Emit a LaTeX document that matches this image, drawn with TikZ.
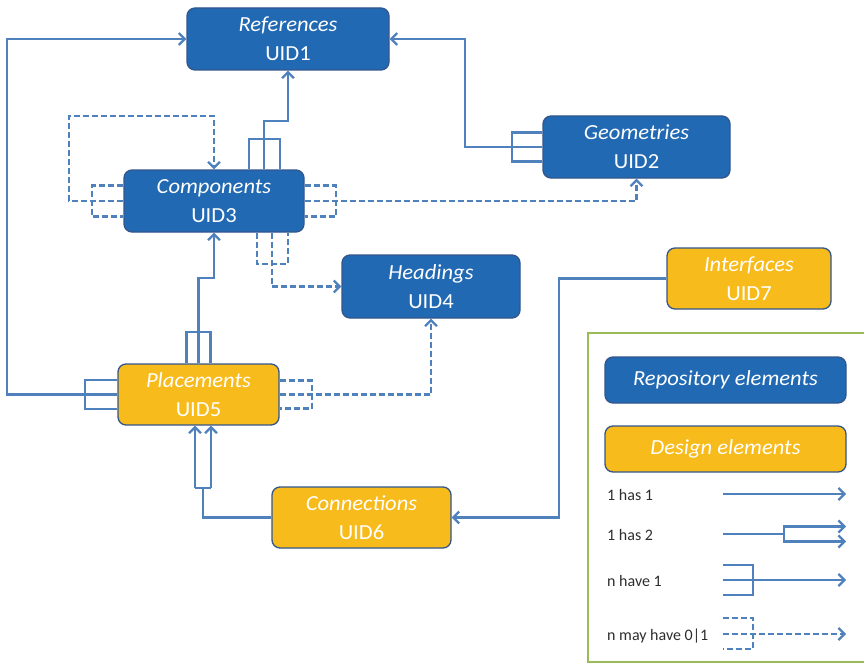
\documentclass[tikz,border=0pt]{standalone}
\usepackage{fontspec}
\setmainfont{Carlito}
\newfontfamily\boxfont{Carlito}[FakeStretch=1.05]
\usetikzlibrary{arrows.meta}

\definecolor{repoblue}{RGB}{33,105,178}
\definecolor{boxline}{RGB}{50,86,140}
\definecolor{designgold}{RGB}{248,187,28}
\definecolor{linkblue}{RGB}{79,129,189}
\definecolor{framegreen}{RGB}{155,187,89}
\definecolor{keytext}{RGB}{45,45,45}

\begin{document}
\begin{tikzpicture}[x=1pt,y=-1pt,
    box/.style={rounded corners=8pt, draw=boxline, line width=1.3pt, text=white,
        inner sep=0pt, align=center, font=\boxfont\fontsize{21.5}{29}\selectfont},
    repo/.style={box, fill=repoblue},
    design/.style={box, fill=designgold},
    link/.style={draw=linkblue, line width=2.2pt},
    opt/.style={link, dash pattern=on 6pt off 3pt},
    arr/.style={-{Straight Barb[length=6pt,width=12pt]}},
    keylabel/.style={anchor=base west, inner sep=0pt, text=keytext, font=\fontsize{16}{18}\selectfont}]
    \clip (0,0) rectangle (864,666);

    % elements
    \node[repo, minimum width=202pt, minimum height=62pt] (ref) at (288,39) {\textit{References}\\UID1};
    \node[repo, minimum width=187pt, minimum height=62pt] (geo) at (636.5,147) {\textit{Geometries}\\UID2};
    \node[repo, minimum width=180pt, minimum height=62pt] (cmp) at (214,201) {\textit{Components}\\UID3};
    \node[repo, minimum width=178pt, minimum height=63pt] (hdg) at (431,286.5) {\textit{Headings}\\UID4};
    \node[design, minimum width=161pt, minimum height=61pt] (plc) at (198.5,394.5) {\textit{Placements}\\UID5};
    \node[design, minimum width=179pt, minimum height=61pt] (con) at (361.5,517.5) {\textit{Connections}\\UID6};
    \node[design, minimum width=164pt, minimum height=61pt] (ifc) at (749,278.5) {\textit{Interfaces}\\UID7};

    % placements -> references
    \draw[link] ([yshift=14.5pt]plc.west) -| ([xshift=-32pt,yshift=-14.5pt]plc.west) -- ([yshift=-14.5pt]plc.west);
    \draw[link,arr] (plc.west) -- ++(-110,0) |- (ref.west);

    % components -> references
    \draw[link] ([xshift=35pt]cmp.north) |- ([xshift=66pt,yshift=30pt]cmp.north) -- ([xshift=66pt]cmp.north);
    \draw[link,arr] ([xshift=50pt]cmp.north) -- ++(0,-48) -| (ref.south);

    % geometries -> references
    \draw[link] ([yshift=14.5pt]geo.west) -| ([xshift=-30pt,yshift=-14.5pt]geo.west) -- ([yshift=-14.5pt]geo.west);
    \draw[link,arr] (geo.west) -- ++(-77,0) |- (ref.east);

    % components -> components
    \draw[opt] ([yshift=15.5pt]cmp.west) -| ([xshift=-31pt,yshift=-15.5pt]cmp.west) -- ([yshift=-15.5pt]cmp.west);
    \draw[opt,arr] (cmp.west) -- ++(-54,0) -- ++(0,-85) -| (cmp.north);

    % components -> geometries
    \draw[opt] ([yshift=15.5pt]cmp.east) -| ([xshift=31pt,yshift=-15.5pt]cmp.east) -- ([yshift=-15.5pt]cmp.east);
    \draw[opt,arr] (cmp.east) -| (geo.south);

    % components -> headings
    \draw[opt] ([xshift=43pt]cmp.south) |- ([xshift=74pt,yshift=-31pt]cmp.south) -- ([xshift=74pt]cmp.south);
    \draw[opt,arr] ([xshift=58pt]cmp.south) |- (hdg.west);

    % placements -> components
    \draw[link] ([xshift=-12pt]plc.north) |- ([xshift=12pt,yshift=31pt]plc.north) -- ([xshift=12pt]plc.north);
    \draw[link,arr] (plc.north) -- ++(0,-85) -| (cmp.south);

    % placements -> headings
    \draw[opt] ([yshift=14pt]plc.east) -| ([xshift=32pt,yshift=-14pt]plc.east) -- ([yshift=-14pt]plc.east);
    \draw[opt,arr] (plc.east) -| (hdg.south);

    % connections -> placements (two)
    \draw[link] (con.west) -| ([xshift=4.5pt,yshift=-62pt]plc.south) coordinate (fk);
    \draw[link] ([xshift=-8pt]fk) -- ([xshift=8pt]fk);
    \draw[link,arr] ([xshift=-8pt]fk) -- ([xshift=-3.5pt]plc.south);
    \draw[link,arr] ([xshift=8pt]fk) -- ([xshift=12.5pt]plc.south);

    % interfaces -> connections
    \draw[link,arr] (ifc.west) -- ++(-107,0) |- (con.east);

    % legend
    \draw[framegreen, line width=2pt] (588,333) rectangle (880,662);
    \node[repo, minimum width=241pt, minimum height=46pt] (krepo) at (725.5,380) {\textit{Repository elements}};
    \node[design, minimum width=241pt, minimum height=46pt] (kdes) at (725.5,449) {\textit{Design elements}};

    \node[keylabel] (k1) at (607,500) {1 has 1};
    \coordinate (k1s) at (723,494);
    \draw[link,arr] (k1s) -- ++(123,0);

    \node[keylabel] (k2) at (607,540) {1 has 2};
    \coordinate (k2s) at (723,534);
    \draw[link] (k2s) -- ++(61,0) coordinate (k2f);
    \draw[link,arr] (k2f) -- ++(0,-7.5) -- ++(62,0);
    \draw[link,arr] (k2f) -- ++(0,7.5) -- ++(62,0);

    \node[keylabel] (k3) at (607,586) {n have 1};
    \coordinate (k3s) at (723,580);
    \draw[link] ([yshift=15pt]k3s) -| ([xshift=30pt,yshift=-15pt]k3s) -- ([yshift=-15pt]k3s);
    \draw[link,arr] (k3s) -- ++(123,0);

    \node[keylabel] (k4) at (607,640) {n may have 0|1};
    \coordinate (k4s) at (723,634);
    \draw[opt] ([yshift=16pt]k4s) -| ([xshift=30pt,yshift=-15pt]k4s) -- ([yshift=-15pt]k4s);
    \draw[opt,arr] (k4s) -- ++(123,0);
\end{tikzpicture}
\end{document}
